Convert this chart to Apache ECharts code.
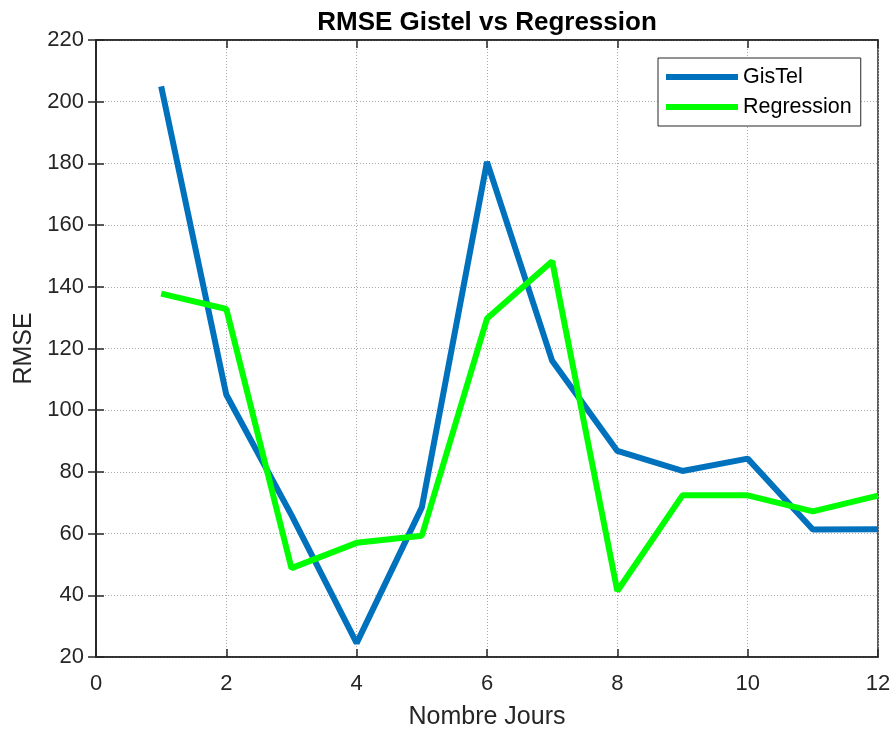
<!DOCTYPE html>
<html>
<head>
<meta charset="utf-8">
<script src="https://cdn.jsdelivr.net/npm/echarts@6/dist/echarts.min.js"></script>
<style>html,body{margin:0;padding:0;background:#fff;}#chart{width:894px;height:731px;}</style>
</head>
<body>
<div id="chart"></div>
<script>
const days = [1, 2, 3, 4, 5, 6, 7, 8, 9, 10, 11, 12];
const gistel = [205, 105, 66, 24.5, 68.5, 180.5, 116, 86.8, 80.3, 84.3, 61.3, 61.4];
const regression = [137.8, 132.8, 48.8, 57, 59.3, 129.7, 148.3, 41.4, 72.4, 72.4, 67.2, 72.3];
const seriesNames = ['GisTel', 'Regression'];
const xTicks = [0, 2, 4, 6, 8, 10, 12];
const yTicks = [20, 40, 60, 80, 100, 120, 140, 160, 180, 200, 220];

const FONT = "'Liberation Sans', Arial, Helvetica, sans-serif";
const AX = '#262626';
const chart = echarts.init(document.getElementById('chart'));
const pairs = (ys) => days.map((d, i) => [d, ys[i]]);

const tickInside = {show: true, inside: true, length: 8, lineStyle: {color: AX, width: 1.5}};
const gridLine = {show: true, lineStyle: {color: '#a8a8a8', type: [1, 2], width: 1}};

chart.setOption({
  animation: false,
  backgroundColor: '#fff',
  title: {
    text: 'RMSE Gistel vs Regression',
    left: 487, top: 10, textAlign: 'center', padding: 0,
    textStyle: {fontFamily: FONT, fontSize: 26, fontWeight: 'bold', color: '#000'}
  },
  grid: {left: 96, right: 16, top: 40, bottom: 74, containLabel: false, outerBoundsMode: 'none',
    show: true, borderColor: AX, borderWidth: 1.5, backgroundColor: '#fff'},
  legend: {
    orient: 'vertical',
    left: 658, top: 58,
    data: seriesNames,
    icon: 'rect',
    itemWidth: 72, itemHeight: 6, itemGap: 8,
    padding: [8, 9, 8, 8],
    borderColor: AX, borderWidth: 1, backgroundColor: '#fff',
    textStyle: {fontFamily: FONT, fontSize: 21.5, color: '#000', lineHeight: 22}
  },
  xAxis: [{
    type: 'value', min: xTicks[0], max: xTicks[xTicks.length - 1], interval: 2,
    name: 'Nombre Jours', nameLocation: 'middle', nameGap: 48,
    nameTextStyle: {fontFamily: FONT, fontSize: 25, color: AX},
    axisLine: {show: true, lineStyle: {color: AX, width: 1.5}},
    axisTick: tickInside,
    axisLabel: {fontFamily: FONT, fontSize: 22, color: AX, margin: 16},
    splitLine: gridLine
  }, {
    type: 'value', position: 'top', min: xTicks[0], max: xTicks[xTicks.length - 1], interval: 2,
    axisLine: {show: true, lineStyle: {color: AX, width: 1.5}},
    axisTick: tickInside, axisLabel: {show: false}, splitLine: {show: false}
  }],
  yAxis: [{
    type: 'value', min: yTicks[0], max: yTicks[yTicks.length - 1], interval: 20,
    name: 'RMSE', nameLocation: 'middle', nameGap: 58, nameRotate: 90,
    nameTextStyle: {fontFamily: FONT, fontSize: 25, color: AX},
    axisLine: {show: true, lineStyle: {color: AX, width: 1.5}},
    axisTick: tickInside,
    axisLabel: {fontFamily: FONT, fontSize: 22, color: AX, margin: 12},
    splitLine: gridLine
  }, {
    type: 'value', position: 'right', min: yTicks[0], max: yTicks[yTicks.length - 1], interval: 20,
    axisLine: {show: true, lineStyle: {color: AX, width: 1.5}},
    axisTick: tickInside, axisLabel: {show: false}, splitLine: {show: false}
  }],
  series: [{
    name: seriesNames[0], type: 'line', data: pairs(gistel),
    showSymbol: false, symbol: 'none', color: '#0072BD',
    lineStyle: {width: 6, color: '#0072BD'}
  }, {
    name: seriesNames[1], type: 'line', data: pairs(regression),
    showSymbol: false, symbol: 'none', color: '#00FF00',
    lineStyle: {width: 6, color: '#00FF00'}
  }]
});
</script>
</body>
</html>
